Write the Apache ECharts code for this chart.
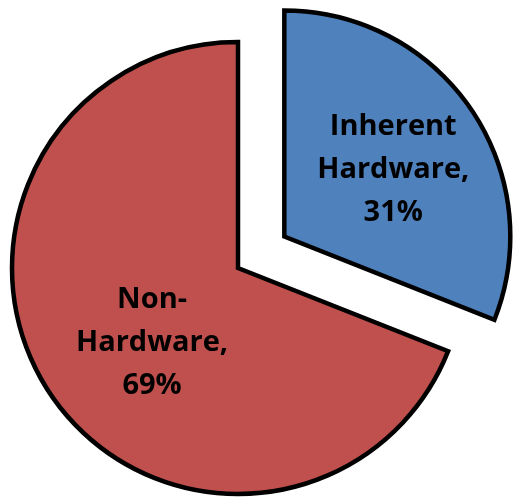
<!DOCTYPE html>
<html>
<head>
<meta charset="utf-8">
<script src="https://cdn.jsdelivr.net/npm/echarts@6/dist/echarts.min.js"></script>
<style>html,body{margin:0;padding:0;background:#fff}#c{width:513px;height:499px}</style>
</head>
<body>
<div id="c"></div>
<script>
var categories = ['Inherent\nHardware', 'Non-\nHardware'];
var values = [31, 69];
var colors = ['#4F81BD', '#C0504D'];
var labelNudge = [[13, -2], [10, 10]];

var chart = echarts.init(document.getElementById('c'), null, {renderer: 'canvas'});
chart.setOption({
  animation: false,
  series: [{
    type: 'pie',
    center: [238, 268],
    radius: [0, 226],
    startAngle: 90,
    clockwise: true,
    selectedMode: 'single',
    selectedOffset: 56,
    avoidLabelOverlap: false,
    emphasis: {disabled: true},
    itemStyle: {borderColor: '#000', borderWidth: 4.5, borderJoin: 'miter'},
    label: {
      show: true,
      position: 'inside',
      formatter: function (p) { return p.name + ',\n' + p.value + '%'; },
      fontFamily: 'Open Sans',
      fontWeight: 'bold',
      fontSize: 29,
      lineHeight: 43,
      color: '#000',
      align: 'center'
    },
    labelLayout: function (p) {
      return {dx: labelNudge[p.dataIndex][0], dy: labelNudge[p.dataIndex][1]};
    },
    data: categories.map(function (c, i) {
      return {name: c, value: values[i], selected: i === 0, itemStyle: {color: colors[i]}};
    })
  }]
});
</script>
</body>
</html>
